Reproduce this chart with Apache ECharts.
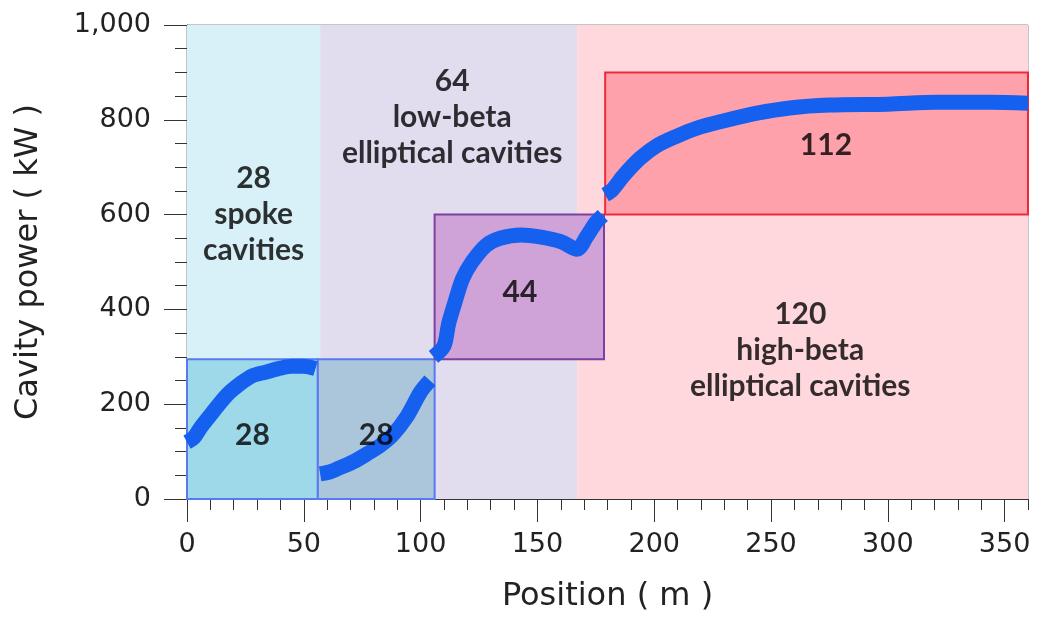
<!DOCTYPE html>
<html>
<head>
<meta charset="utf-8">
<script src="https://cdn.jsdelivr.net/npm/echarts@6/dist/echarts.min.js"></script>
<style>
  html, body { margin: 0; padding: 0; background: #fff; }
  #chart { width: 1043px; height: 620px; }
</style>
</head>
<body>
<div id="chart"></div>
<script>
// cavity power along the linac, one array pair per section
var spokeX = [0, 3, 6, 11, 17, 23, 28, 34, 40, 45, 50, 55]
var spokeY = [120, 130, 152, 183, 219, 244, 260, 268, 276, 280, 280, 275]
var medX = [57, 61, 65, 71, 77, 83, 88, 94, 100, 104]
var medY = [53, 57, 65, 78, 95, 114, 135, 173, 226, 250]
var lowX = [105.5, 110, 112, 115, 118, 122, 128, 134, 143, 151, 160, 167, 171, 175, 178]
var lowY = [300, 323, 370, 420, 465, 500, 535, 550, 557, 553, 543, 527, 553, 583, 598]
var highX = [179, 182, 187, 194, 201, 209, 218, 230, 244, 258, 275, 300, 321, 344, 360]
var highY = [642, 652, 683, 719, 745, 764, 782, 798, 814, 825, 831, 833, 837, 837, 835]

// background sections (position in m)
var bandEdges = [0, 57, 167, 360]
var bandColors = ['#d8f0f7', '#e1dcee', '#ffd8dd']

// cavity boxes
var boxX0 = [0, 56, 106, 179]
var boxX1 = [56, 106, 178.5, 360]
var boxY0 = [0, 0, 295, 600]
var boxY1 = [295, 295, 600, 900]
var boxFill = ['#9ed9ea', '#abc5da', '#cfa3d8', '#ffa1ab']
var boxBorder = ['#5a78f2', '#5a78f2', '#7d3fa0', '#ee2a3a']

// cavity counts written in the boxes and section captions
var labelX = [28, 81, 142.5, 273.5, 28.5, 113.5, 262.5]
var labelY = [135, 135, 435, 747, 601, 806, 314]
var labelText = ['28', '28', '44', '112',
  '28\nspoke\ncavities', '64\nlow-beta\nelliptical cavities', '120\nhigh-beta\nelliptical cavities']

var chart = echarts.init(document.getElementById('chart'))

var zip = function (xs, ys) { return xs.map(function (x, i) { return [x, ys[i]] }) }

var bandAreas = []
for (var i = 0; i < bandColors.length; i++) {
  bandAreas.push([
    { xAxis: bandEdges[i], yAxis: 0, itemStyle: { color: bandColors[i] } },
    { xAxis: bandEdges[i + 1], yAxis: 1000 }
  ])
}
var boxAreas = boxFill.map(function (c, i) {
  return [
    { xAxis: boxX0[i], yAxis: boxY0[i],
      itemStyle: { color: c, borderColor: boxBorder[i], borderWidth: 2 } },
    { xAxis: boxX1[i], yAxis: boxY1[i] }
  ]
})

var curve = function (xs, ys) {
  return {
    type: 'line',
    data: zip(xs, ys),
    showSymbol: false,
    smooth: 0.3,
    lineStyle: { color: '#1660f0', width: 15, cap: 'butt' },
    z: 5,
    silent: true
  }
}

var textFont = 'Lato, "Open Sans", sans-serif'
var axisFont = 'DejaVu Sans'

chart.setOption({
  animation: false,
  grid: { left: 187, right: 15, top: 25, bottom: 121, show: true, borderColor: '#8c8c8c', borderWidth: 1 },
  xAxis: [{
    type: 'value', min: 0, max: 360, interval: 50, position: 'bottom',
    name: 'Position ( m )', nameLocation: 'middle', nameGap: 82,
    nameTextStyle: { fontFamily: axisFont, fontSize: 32, color: '#222' },
    axisLine: { lineStyle: { color: '#333', width: 1 } },
    axisTick: { inside: false, length: 23, lineStyle: { color: '#333' } },
    axisLabel: { margin: 32, fontFamily: axisFont, fontSize: 27, color: '#222', showMaxLabel: false },
    splitLine: { show: false }
  }, {
    type: 'value', min: 0, max: 360, interval: 10, position: 'bottom',
    axisLine: { show: false },
    axisTick: { length: 11, lineStyle: { color: '#333' } },
    axisLabel: { show: false },
    splitLine: { show: false }
  }],
  yAxis: {
    type: 'value', min: 0, max: 1000, interval: 200,
    name: 'Cavity power ( kW )', nameLocation: 'middle', nameGap: 142,
    nameTextStyle: { fontFamily: axisFont, fontSize: 32, color: '#222' },
    axisLine: { show: true, lineStyle: { color: '#333', width: 1 } },
    axisTick: { length: 23, lineStyle: { color: '#333' } },
    minorTick: { show: true, splitNumber: 4, length: 12, lineStyle: { color: '#333' } },
    axisLabel: {
      margin: 36, fontFamily: axisFont, fontSize: 27, color: '#222',
      formatter: function (v) { return v.toLocaleString('en-US') }
    },
    splitLine: { show: false }
  },
  series: [
    {
      type: 'line', data: [], silent: true, z: 1,
      markArea: { silent: true, data: bandAreas }
    },
    {
      type: 'line', data: [], silent: true, z: 2,
      markArea: { silent: true, data: boxAreas }
    },
    curve(spokeX, spokeY),
    curve(medX, medY),
    curve(lowX, lowY),
    curve(highX, highY),
    {
      type: 'scatter', symbolSize: 0, z: 10, silent: true,
      data: labelX.map(function (x, i) { return { value: [x, labelY[i]], name: labelText[i] } }),
      label: {
        show: true, position: 'inside', formatter: '{b}',
        fontFamily: textFont, fontSize: 30, fontWeight: 'bold', lineHeight: 36, color: '#000', align: 'center'
      }
    }
  ]
})
</script>
</body>
</html>
